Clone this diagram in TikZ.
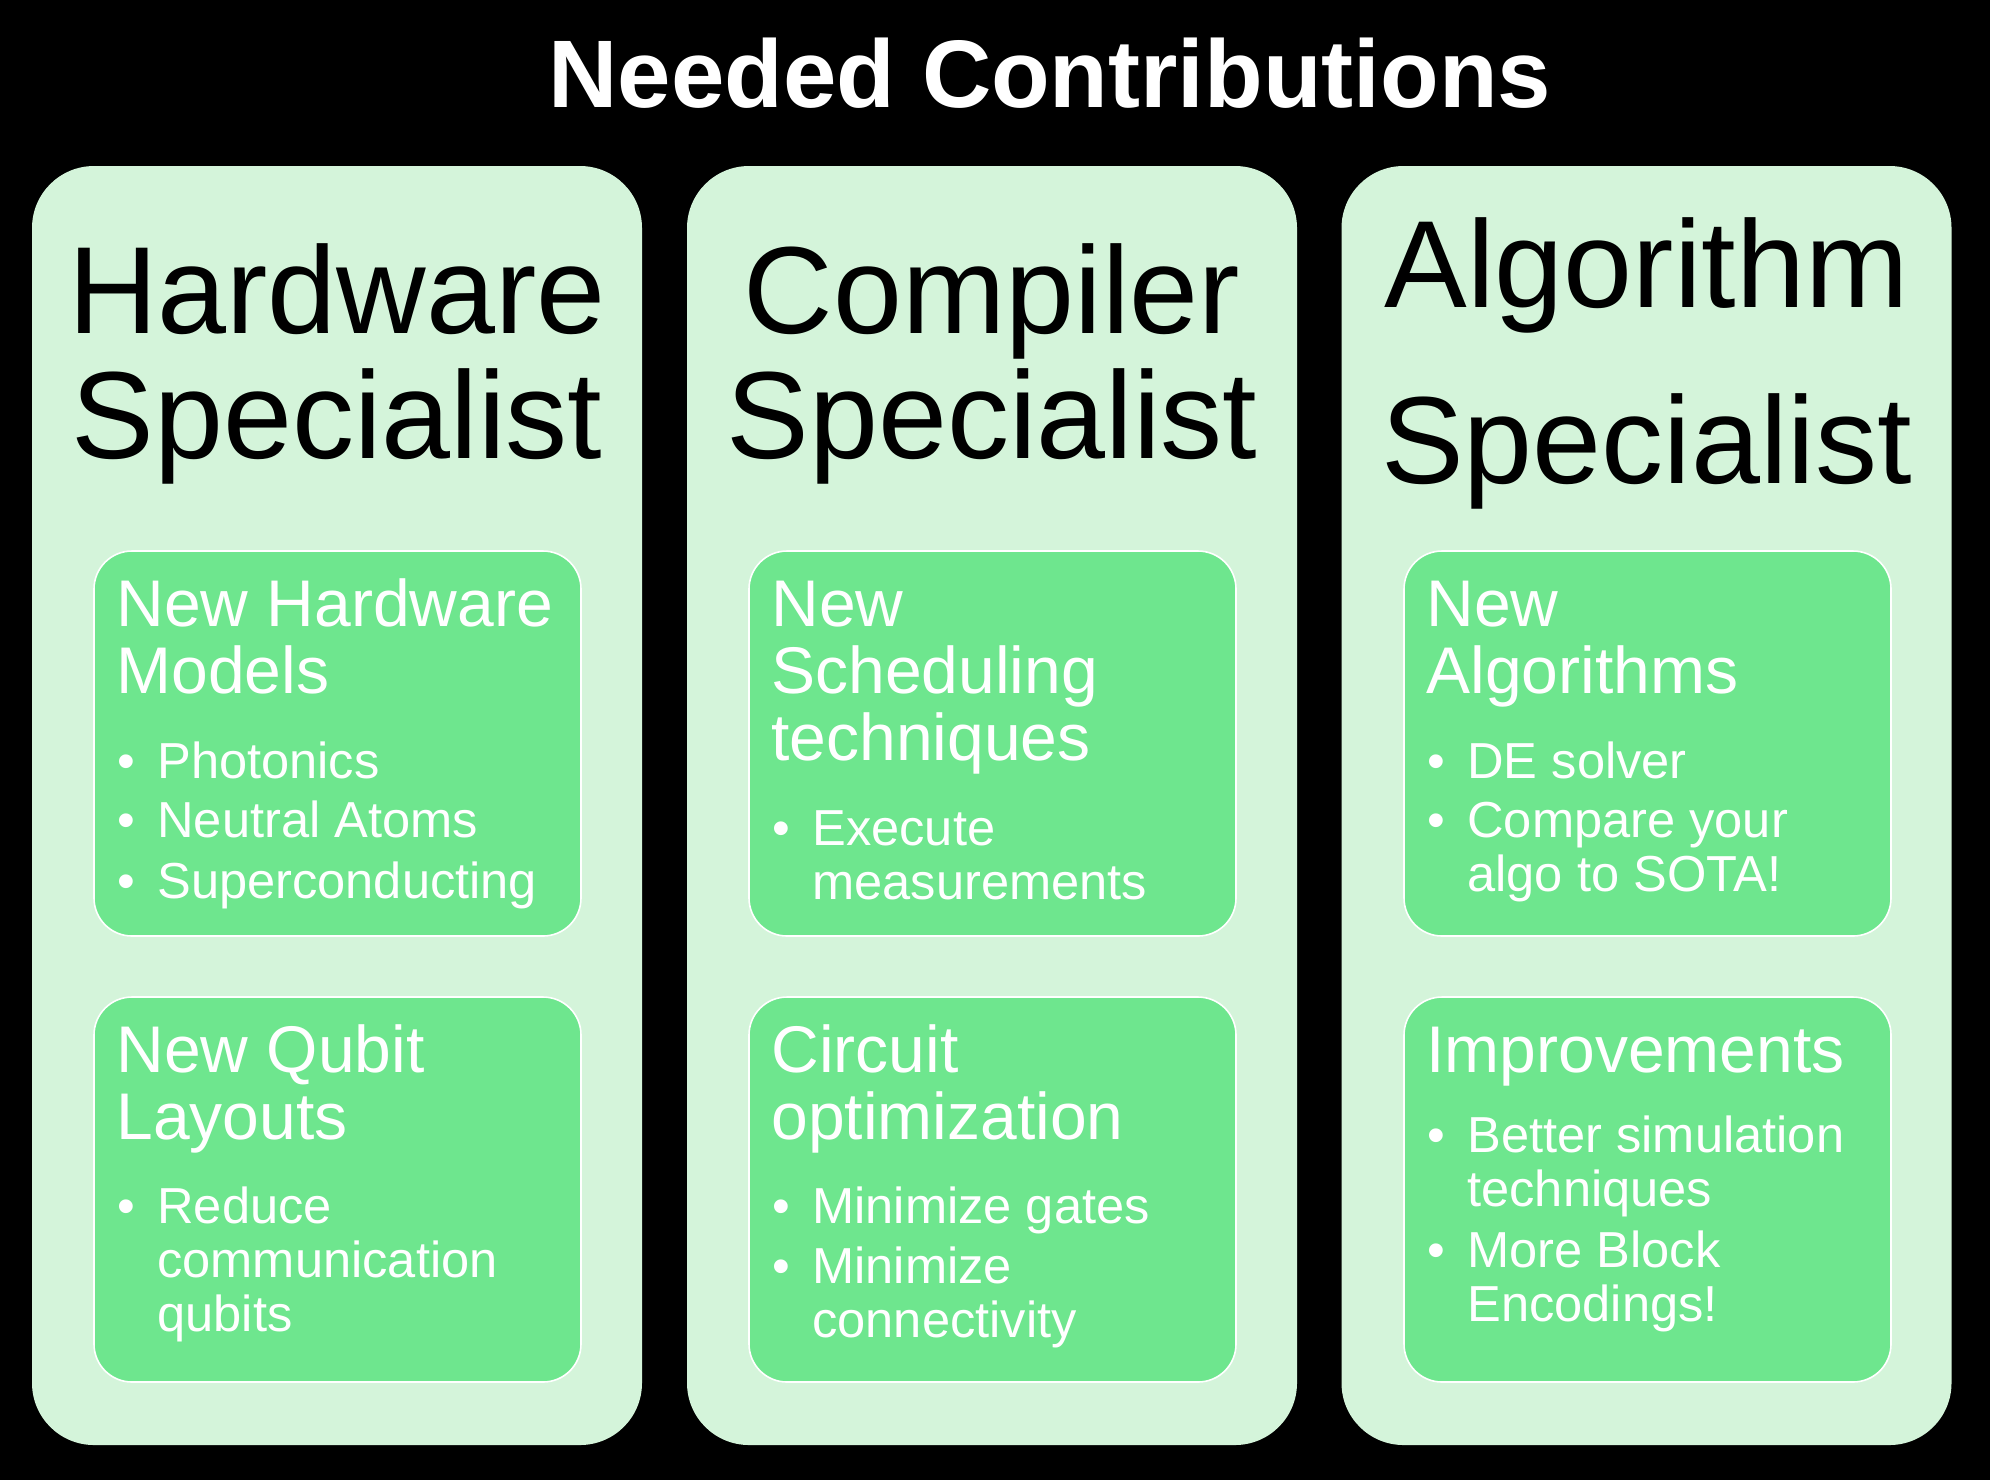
\documentclass[tikz,border=0pt]{standalone}
\usepackage{fontspec}
\setmainfont{Liberation Sans}
\usetikzlibrary{calc}

\definecolor{panelfill}{HTML}{D4F4DA}
\definecolor{cardfill}{HTML}{6EE68E}

% stacked lines whose baseline is the baseline of the first line
\newcommand\leftrows[1]{\vtop{\halign{##\hfil\cr#1\crcr}}}
\newcommand\centerrows[1]{\vtop{\halign{\hfil##\hfil\cr#1\crcr}}}

\tikzset{
  panel/.style={fill=panelfill, rounded corners=31pt, minimum width=305pt,
    minimum height=639.5pt, inner sep=0pt, outer sep=0pt},
  card/.style={fill=cardfill, draw=white, line width=0.8pt, rounded corners=19pt,
    minimum width=243.5pt, minimum height=192.5pt, inner sep=0pt, outer sep=0pt},
  role/.style={anchor=base, inner sep=0pt, text=black,
    font=\fontsize{62}{62.5}\selectfont},
  cardhead/.style={anchor=base west, inner sep=0pt, text=white,
    font=\fontsize{33}{33.5}\selectfont},
  dot/.style={anchor=base, inner sep=0pt, text=white,
    font=\fontsize{25.3}{27}\selectfont},
  item/.style={anchor=base west, inner sep=0pt, text=white,
    font=\fontsize{25.3}{27}\selectfont},
}

\begin{document}
\begin{tikzpicture}[x=0.5pt, y=-0.5pt]
  \useasboundingbox (0,0) rectangle (1990,1480);
  \fill[black] (0,0) rectangle (1990,1480);

  \node[anchor=base, inner sep=0pt, text=white,
        font=\bfseries\fontsize{48}{48}\selectfont] (title) at (1050,107)
        {Needed Contributions};

  % ---------- hardware column ----------
  \node[panel] (hw) at (337,805.5) {};
  \node[card] (hwA) at (337.5,743.5) {};
  \node[card] (hwB) at (337.5,1189.5) {};
  \node[role] (hwT) at ($(hw.north)+(0,167)$) {\centerrows{Hardware\cr Specialist}};

  \node[cardhead] (hwAh) at ($(hwA.north west)+(22,75)$) {\leftrows{New Hardware\cr Models}};
  \node[dot]  (hwA1d) at ($(hwA.north west)+(32,227)$) {•};
  \node[item] (hwA1)  at ($(hwA.north west)+(63,227)$) {Photonics};
  \node[dot]  (hwA2d) at ($(hwA.north west)+(32,286)$) {•};
  \node[item] (hwA2)  at ($(hwA.north west)+(63,286)$) {Neutral Atoms};
  \node[dot]  (hwA3d) at ($(hwA.north west)+(32,347)$) {•};
  \node[item] (hwA3)  at ($(hwA.north west)+(63,347)$) {Superconducting};

  \node[cardhead] (hwBh) at ($(hwB.north west)+(22,75)$) {\leftrows{New Qubit\cr Layouts}};
  \node[dot]  (hwB1d) at ($(hwB.north west)+(32,226)$) {•};
  \node[item] (hwB1)  at ($(hwB.north west)+(63,226)$) {\leftrows{Reduce\cr communication\cr qubits}};

  % ---------- compiler column ----------
  \node[panel] (cc) at (992,805.5) {};
  \node[card] (ccA) at (992.5,743.5) {};
  \node[card] (ccB) at (992.5,1189.5) {};
  \node[role] (ccT) at ($(cc.north)+(0,167)$) {\centerrows{Compiler\cr Specialist}};

  \node[cardhead] (ccAh) at ($(ccA.north west)+(22,75)$) {\leftrows{New\cr Scheduling\cr techniques}};
  \node[dot]  (ccA1d) at ($(ccA.north west)+(32,294)$) {•};
  \node[item] (ccA1)  at ($(ccA.north west)+(63,294)$) {\leftrows{Execute\cr measurements}};

  \node[cardhead] (ccBh) at ($(ccB.north west)+(22,75)$) {\leftrows{Circuit\cr optimization}};
  \node[dot]  (ccB1d) at ($(ccB.north west)+(32,226)$) {•};
  \node[item] (ccB1)  at ($(ccB.north west)+(63,226)$) {Minimize gates};
  \node[dot]  (ccB2d) at ($(ccB.north west)+(32,286)$) {•};
  \node[item] (ccB2)  at ($(ccB.north west)+(63,286)$) {\leftrows{Minimize\cr connectivity}};

  % ---------- algorithm column ----------
  \node[panel] (al) at (1646.5,805.5) {};
  \node[card] (alA) at (1647.5,743.5) {};
  \node[card] (alB) at (1647.5,1189.5) {};
  \node[role, font=\fontsize{62}{88}\selectfont] (alT) at ($(al.north)+(0,141)$)
       {\centerrows{Algorithm\cr Specialist}};

  \node[cardhead] (alAh) at ($(alA.north west)+(22,75)$) {\leftrows{New\cr Algorithms}};
  \node[dot]  (alA1d) at ($(alA.north west)+(32,227)$) {•};
  \node[item] (alA1)  at ($(alA.north west)+(63,227)$) {DE solver};
  \node[dot]  (alA2d) at ($(alA.north west)+(32,286)$) {•};
  \node[item] (alA2)  at ($(alA.north west)+(63,286)$) {\leftrows{Compare your\cr algo to SOTA!}};

  \node[cardhead] (alBh) at ($(alB.north west)+(22,75)$) {Improvements};
  \node[dot]  (alB1d) at ($(alB.north west)+(32,155)$) {•};
  \node[item] (alB1)  at ($(alB.north west)+(63,155)$) {\leftrows{Better simulation\cr techniques}};
  \node[dot]  (alB2d) at ($(alB.north west)+(32,270)$) {•};
  \node[item] (alB2)  at ($(alB.north west)+(63,270)$) {\leftrows{More Block\cr Encodings!}};
\end{tikzpicture}
\end{document}
